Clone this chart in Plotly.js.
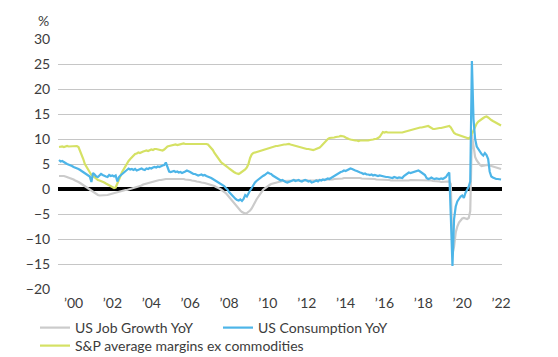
<!DOCTYPE html>
<html><head><meta charset="utf-8">
<script src="https://cdn.plot.ly/plotly-3.0.1.min.js"></script>
<style>html,body{margin:0;padding:0;background:#fff;} #chart{width:558px;height:357px;}</style>
</head><body><div id="chart"></div>
<script>
// Monthly series, Jan 2000 .. Oct 2022
const startYear = 2000;
const jobGrowth = [
 2.6,2.6,2.7,2.6,2.5,2.4,2.3,2.2,2.0,1.9,1.7,1.6,
 1.4,1.2,1.0,0.7,0.5,0.3,0.1,-0.1,-0.4,-0.7,-0.9,-1.1,
 -1.2,-1.3,-1.3,-1.3,-1.3,-1.2,-1.2,-1.1,-1.0,-0.9,-0.8,-0.7,
 -0.6,-0.5,-0.4,-0.3,-0.3,-0.2,-0.2,-0.1,-0.1,0.0,0.1,0.2,
 0.3,0.4,0.6,0.7,0.9,1.0,1.1,1.2,1.3,1.4,1.5,1.6,
 1.6,1.7,1.8,1.8,1.9,1.9,2.0,2.0,2.0,2.0,2.0,2.1,
 2.1,2.1,2.1,2.0,2.0,2.0,1.9,1.9,1.8,1.8,1.7,1.7,
 1.6,1.5,1.5,1.4,1.3,1.3,1.2,1.1,1.0,1.0,0.9,0.8,
 0.6,0.4,0.3,0.1,-0.1,-0.3,-0.5,-0.8,-1.2,-1.6,-2.0,-2.5,
 -2.9,-3.3,-3.7,-4.0,-4.3,-4.6,-4.8,-4.9,-4.8,-4.6,-4.3,-3.9,
 -3.2,-2.7,-2.1,-1.6,-1.1,-0.6,-0.2,0.1,0.4,0.6,0.8,1.0,
 1.1,1.2,1.3,1.4,1.5,1.5,1.6,1.6,1.6,1.7,1.7,1.7,
 1.7,1.8,1.7,1.7,1.7,1.6,1.7,1.7,1.6,1.7,1.7,1.7,
 1.7,1.7,1.7,1.8,1.8,1.8,1.8,1.8,1.8,1.9,1.9,1.9,
 1.9,1.9,2.0,2.0,2.0,2.0,2.1,2.1,2.2,2.2,2.2,2.3,
 2.3,2.3,2.3,2.3,2.2,2.2,2.2,2.1,2.1,2.1,2.0,2.0,
 2.1,2.0,2.0,2.0,1.9,1.9,1.9,1.9,1.8,1.8,1.8,1.8,
 1.8,1.7,1.7,1.7,1.7,1.7,1.6,1.6,1.6,1.7,1.7,1.7,
 1.7,1.8,1.8,1.8,1.8,1.8,1.8,1.8,1.7,1.7,1.8,1.8,
 1.8,1.7,1.7,1.6,1.6,1.5,1.5,1.5,1.4,1.4,1.4,1.4,
 1.4,1.5,1.0,-13.0,-11.5,-8.7,-7.5,-6.7,-6.3,-5.9,-5.8,-5.9,
 -6.0,-5.8,-4.4,10.8,9.0,6.4,5.7,5.2,4.8,4.6,4.6,4.7,
 4.8,4.8,4.7,4.6,4.5,4.4,4.3,4.2,4.1,4.0
];
const consumption = [
 5.8,5.5,5.6,5.3,5.2,5.0,4.9,4.8,4.6,4.4,4.3,4.1,
 4.0,3.8,3.6,3.3,3.1,3.0,2.8,2.5,1.4,3.2,2.9,2.5,
 2.4,2.7,3.0,2.8,2.6,2.5,2.4,2.8,2.6,2.7,2.5,2.7,
 1.5,2.4,2.7,3.0,3.4,3.7,3.8,4.1,3.9,4.0,3.8,4.0,
 3.7,3.8,4.0,4.1,3.9,3.8,4.1,4.0,4.2,4.1,4.3,4.4,
 4.3,4.5,4.4,4.6,4.7,4.8,5.3,4.4,3.5,3.4,3.5,3.6,
 3.4,3.5,3.3,3.4,3.2,3.3,3.5,3.7,3.6,3.4,3.2,3.0,
 3.0,2.9,2.7,2.8,2.9,2.7,2.8,2.6,2.5,2.3,2.2,2.0,
 1.8,1.5,1.3,1.1,1.0,0.8,0.6,0.2,-0.1,-0.6,-1.0,-1.4,
 -1.6,-2.0,-2.2,-2.3,-2.1,-2.4,-2.0,-1.2,-1.5,-0.8,-0.3,0.2,
 0.9,1.3,1.6,1.9,2.2,2.4,2.6,2.8,3.0,3.3,3.1,3.0,
 2.7,2.5,2.3,2.0,1.8,1.7,1.8,1.5,1.4,1.3,1.4,1.5,
 1.7,1.8,1.6,1.7,1.8,1.6,1.5,1.7,1.8,1.7,1.5,1.6,
 1.3,1.4,1.6,1.7,1.5,1.8,1.7,1.9,1.8,2.0,2.1,2.0,
 2.2,2.4,2.7,2.8,3.0,3.2,3.4,3.5,3.7,3.6,3.8,3.9,
 4.1,4.0,3.8,3.7,3.6,3.4,3.3,3.2,3.0,3.1,2.9,2.9,
 2.8,2.9,2.7,2.8,2.7,2.6,2.7,2.6,2.5,2.5,2.4,2.4,
 2.3,2.3,2.2,2.4,2.3,2.2,2.3,2.2,2.2,2.6,2.9,3.2,
 3.3,3.2,3.3,3.4,3.5,3.6,3.7,3.5,3.3,3.0,2.8,2.2,
 2.0,2.1,2.3,2.1,2.0,2.1,2.0,2.0,2.1,2.0,2.2,2.4,
 2.9,3.3,-5.5,-15.4,-6.0,-3.5,-2.5,-2.0,-1.5,-1.3,-1.8,-0.8,
 -0.2,0.5,1.5,25.6,14.0,10.0,8.5,8.0,7.3,7.0,6.7,7.2,
 6.8,6.0,3.5,2.5,2.3,2.1,2.0,2.0,1.9,1.9
];
const margins = [
 8.4,8.5,8.5,8.4,8.5,8.6,8.5,8.5,8.6,8.6,8.5,8.6,
 8.4,7.6,7.0,6.0,5.0,4.4,3.8,3.2,2.8,2.6,2.3,2.0,
 1.8,1.7,1.6,1.5,1.3,1.1,0.9,0.7,0.6,0.4,0.2,0.3,
 1.0,1.8,2.6,3.4,4.0,4.6,5.2,5.6,6.0,6.4,6.8,7.0,
 7.1,7.3,7.2,7.4,7.5,7.6,7.7,7.6,7.8,7.9,7.8,8.0,
 8.0,7.9,7.8,7.7,7.7,7.9,8.2,8.5,8.6,8.7,8.8,8.8,
 8.9,8.8,8.9,9.0,9.0,9.1,9.0,9.0,9.1,9.0,9.0,9.1,
 9.0,9.0,9.1,9.0,9.1,9.0,9.0,9.0,8.9,8.6,8.3,7.8,
 7.2,6.7,6.2,5.7,5.4,5.1,4.9,4.7,4.4,4.1,3.8,3.6,
 3.4,3.2,3.1,3.0,3.2,3.4,3.6,3.9,4.3,5.0,6.2,6.9,
 7.2,7.3,7.4,7.5,7.6,7.8,7.9,8.0,8.1,8.2,8.3,8.4,
 8.4,8.5,8.6,8.6,8.7,8.7,8.8,8.9,8.9,9.0,9.0,8.9,
 8.8,8.7,8.6,8.5,8.4,8.4,8.3,8.2,8.1,8.0,8.0,7.9,
 7.9,7.8,7.9,8.0,8.2,8.3,8.6,9.0,9.4,9.7,10.0,10.2,
 10.2,10.3,10.3,10.4,10.4,10.5,10.6,10.6,10.5,10.3,10.1,10.0,
 9.9,9.8,9.8,9.7,9.7,9.6,9.7,9.7,9.6,9.7,9.7,9.7,
 9.8,9.8,9.9,10.0,10.0,10.2,10.4,10.9,11.4,11.3,11.4,11.3,
 11.3,11.2,11.3,11.3,11.2,11.2,11.3,11.2,11.3,11.4,11.5,11.6,
 11.7,11.8,11.8,11.9,12.0,12.1,12.2,12.3,12.3,12.4,12.5,12.6,
 12.6,12.4,12.2,12.0,12.0,12.1,12.1,12.2,12.2,12.3,12.3,12.4,
 12.5,12.6,12.3,11.8,11.2,11.0,10.9,10.8,10.7,10.6,10.5,10.4,
 10.2,10.1,10.3,11.0,11.8,12.6,13.1,13.5,13.8,14.0,14.2,14.4,
 14.5,14.3,14.0,13.8,13.6,13.4,13.3,13.0,12.8,12.7
];
const seriesNames = ["US Job Growth YoY", "US Consumption YoY", "S&P average margins ex commodities"];
const tickYears = [2000,2002,2004,2006,2008,2010,2012,2014,2016,2018,2020,2022];
const tickLabels = ["’00","’02","’04","’06","’08","’10","’12","’14","’16","’18","’20","’22"];
const yTicks = [-20,-15,-10,-5,0,5,10,15,20,25,30];

function monthDates(n){
  const out = [];
  for (let i = 0; i < n; i++) {
    const y = startYear + Math.floor(i / 12), m = i % 12 + 1;
    out.push(y + '-' + String(m).padStart(2, '0') + '-01');
  }
  return out;
}
const dates = monthDates(jobGrowth.length);

const FONT = 'Lato, "Open Sans", Arial, sans-serif';
const TXT = '#3c3c3c';

const traces = [
  {x: dates, y: jobGrowth, name: seriesNames[0], type: 'scatter', mode: 'lines',
   line: {color: '#cbcbcb', width: 2.2}, legend: 'legend'},
  {x: dates, y: margins, name: seriesNames[2], type: 'scatter', mode: 'lines',
   line: {color: '#d5e164', width: 2.2}, legend: 'legend3'},
  {x: dates, y: consumption, name: seriesNames[1], type: 'scatter', mode: 'lines',
   line: {color: '#4db5e8', width: 2.2}, legend: 'legend2'}
];

const legendBase = {orientation: 'h', xref: 'container', yref: 'container', xanchor: 'left', yanchor: 'middle',
  bgcolor: 'rgba(0,0,0,0)', font: {family: FONT, size: 14, color: TXT}, itemwidth: 30};

const layout = {
  width: 558, height: 357,
  margin: {l: 58, r: 56, t: 39, b: 68},
  paper_bgcolor: '#fff', plot_bgcolor: '#fff',
  font: {family: FONT, size: 14, color: TXT},
  showlegend: true,
  legend: Object.assign({}, legendBase, {x: 35/558, y: 1 - 328/357}),
  legend2: Object.assign({}, legendBase, {x: 218/558, y: 1 - 328/357}),
  legend3: Object.assign({}, legendBase, {x: 35/558, y: 1 - 346/357}),
  xaxis: {
    type: 'date', range: ['1999-12-13', '2022-10-19'],
    tickvals: tickYears.map(y => y + '-10-01'), ticktext: tickLabels,
    showgrid: false, zeroline: false, showline: false,
    ticks: 'outside', ticklen: 1, tickcolor: 'rgba(0,0,0,0)',
    tickfont: {family: FONT, size: 14, color: TXT}
  },
  yaxis: {
    range: [-20, 30], tickvals: yTicks,
    showgrid: true, gridcolor: '#c6c6c6', gridwidth: 1,
    zeroline: true, zerolinecolor: '#000', zerolinewidth: 4,
    showline: false, ticks: 'outside', ticklen: 4, tickcolor: 'rgba(0,0,0,0)',
    tickfont: {family: FONT, size: 14, color: TXT}
  },
  annotations: [{
    text: '%', xref: 'paper', yref: 'paper', x: (43 - 58) / 444, y: (289 - 21) / 250,
    xanchor: 'center', yanchor: 'middle', showarrow: false,
    font: {family: FONT, size: 14, color: TXT}
  }]
};

Plotly.newPlot('chart', traces, layout, {displayModeBar: false, staticPlot: true});
</script>
</body></html>
